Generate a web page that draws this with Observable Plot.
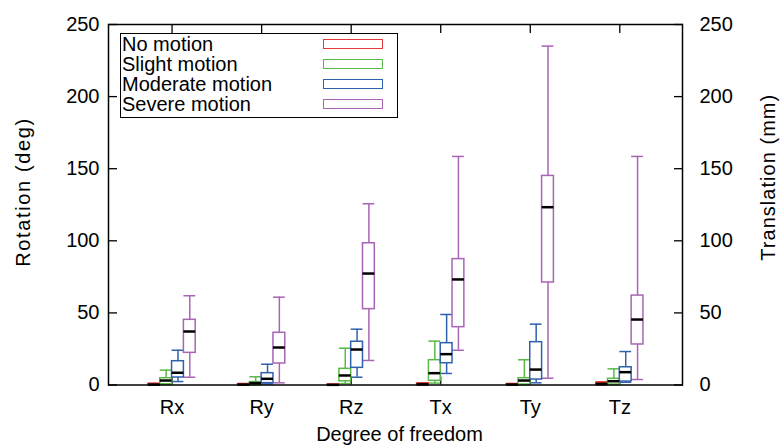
<!DOCTYPE html>
<html>
<head>
<meta charset="utf-8">
<script src="https://cdn.jsdelivr.net/npm/d3@7"></script>
<script src="https://cdn.jsdelivr.net/npm/@observablehq/plot@0.6"></script>
<style>
  html, body { margin: 0; padding: 0; background: #fff; }
  #wrap { position: relative; width: 780px; height: 447px; font-family: "Liberation Sans", Arial, sans-serif; }
  #legend { position: absolute; left: 120px; top: 33px; width: 276px; height: 83px; border: 1px solid #000; background: #fff; }
  .row { position: absolute; left: 1px; height: 20px; line-height: 20px; font-size: 20px; color: #000; white-space: nowrap; }
  .sw { position: absolute; left: 202px; width: 58px; height: 8px; border-width: 1.5px; border-style: solid; box-sizing: content-box; }
</style>
</head>
<body>
<div id="wrap"></div>
<script>
const categories = ["Rx", "Ry", "Rz", "Tx", "Ty", "Tz"];
const seriesNames = ["No motion", "Slight motion", "Moderate motion", "Severe motion"];
const seriesColors = ["#e8393a", "#5cb848", "#2f62ad", "#a865b5"];
const yTicks = [0, 50, 100, 150, 200, 250];

// five-number summaries [min, q1, median, q3, max] per category
const noMotion = [
  [0, 0.1, 0.3, 0.7, 1.2], [0, 0.1, 0.3, 0.6, 1.0], [0, 0, 0.1, 0.3, 0.5],
  [0, 0.2, 0.5, 1.0, 1.5], [0, 0.1, 0.3, 0.6, 1.0], [0, 0.3, 0.8, 1.5, 2.2]
];
const slightMotion = [
  [0.3, 0.5, 3.1, 4.7, 10.3], [0.1, 0.1, 1.3, 2.0, 5.7], [1.0, 2.6, 6.6, 11.2, 25.5],
  [1.3, 2.9, 8.2, 17.2, 30.4], [0.2, 0.3, 3.1, 4.7, 17.5], [0.2, 0.3, 2.6, 4.3, 11.2]
];
const moderateMotion = [
  [2.4, 5.2, 8.5, 16.5, 24.1], [0.8, 1.3, 4.3, 8.2, 14.4], [5.4, 11.9, 24.6, 30.0, 38.7],
  [8.0, 15.1, 21.4, 29.0, 48.9], [1.5, 3.8, 10.7, 29.7, 42.2], [1.9, 2.4, 8.9, 12.3, 23.2]
];
const severeMotion = [
  [5.4, 22.3, 37.1, 45.2, 61.9], [1.5, 14.9, 26.0, 36.2, 60.9], [17.0, 52.6, 77.3, 98.3, 125.7],
  [24.1, 40.1, 73.2, 87.3, 158.5], [4.7, 71.1, 123.3, 145.0, 235.0], [3.8, 28.1, 45.4, 62.0, 158.5]
];
const allSeries = [noMotion, slightMotion, moderateMotion, severeMotion];

const boxW = 0.132;
const rows = [];
allSeries.forEach((vals, si) => {
  vals.forEach((v, ci) => {
    const x = ci + 1 + (si - 1.5) * boxW;
    rows.push({series: seriesNames[si], x, x1: x - boxW / 2, x2: x + boxW / 2,
      min: v[0], q1: v[1], med: v[2], q3: v[3], max: v[4]});
  });
});
const catIdx = categories.map((c, i) => i + 1);

const font = "Liberation Sans, Arial, sans-serif";
const plot = Plot.plot({
  width: 780,
  height: 447,
  marginLeft: 108,
  marginRight: 98,
  marginTop: 24,
  marginBottom: 62.5,
  style: {fontFamily: font, fontSize: "20px", background: "#fff", color: "#000"},
  x: {domain: [0.29, 6.70], axis: null},
  y: {domain: [0, 250], axis: null},
  color: {domain: seriesNames, range: seriesColors},
  marks: [
    Plot.axisY(yTicks, {anchor: "left", tickSize: -9, tickFormat: () => "", label: null, strokeWidth: 1.3}),
    Plot.axisY(yTicks, {anchor: "right", tickSize: -9, tickFormat: () => "", label: null, strokeWidth: 1.3}),
    Plot.axisX(catIdx, {anchor: "top", tickSize: -8, tickFormat: () => "", label: null, strokeWidth: 1.3}),
    Plot.axisX(catIdx, {anchor: "bottom", tickSize: -8, tickFormat: () => "", label: null, strokeWidth: 1.3}),
    Plot.axisY(yTicks, {anchor: "left", tickSize: 0, tickPadding: 9, label: null, fontSize: 20}),
    Plot.axisY(yTicks, {anchor: "right", tickSize: 0, tickPadding: 17, label: null, fontSize: 20}),
    Plot.axisX(catIdx, {anchor: "bottom", tickSize: 0, tickPadding: 15, label: null, fontSize: 20,
      tickFormat: i => categories[i - 1]}),
    Plot.ruleX(rows, {x: "x", y1: "q3", y2: "max", stroke: "series", strokeWidth: 1.5}),
    Plot.ruleX(rows, {x: "x", y1: "min", y2: "q1", stroke: "series", strokeWidth: 1.5}),
    Plot.ruleY(rows, {y: "max", x1: "x1", x2: "x2", stroke: "series", strokeWidth: 1.5}),
    Plot.ruleY(rows, {y: "min", x1: "x1", x2: "x2", stroke: "series", strokeWidth: 1.5}),
    Plot.rect(rows, {x1: "x1", x2: "x2", y1: "q1", y2: "q3", fill: "white", stroke: "series", strokeWidth: 1.5}),
    Plot.ruleY(rows, {y: "med", x1: "x1", x2: "x2", stroke: "black", strokeWidth: 2.5}),
    Plot.frame({stroke: "black", strokeWidth: 1.5}),
    Plot.text(["Rotation (deg)"], {frameAnchor: "left", dx: -85, dy: -12, rotate: -90, fontSize: 20,
      textAnchor: "middle", lineAnchor: "middle", fill: "black", className: "ytitle-l"}),
    Plot.text(["Translation (mm)"], {frameAnchor: "right", dx: 86, dy: -27, rotate: -90, fontSize: 20,
      textAnchor: "middle", lineAnchor: "middle", fill: "black", className: "ytitle-r"}),
    Plot.text(["Degree of freedom"], {frameAnchor: "bottom", dx: 4, dy: 50, fontSize: 20,
      textAnchor: "middle", lineAnchor: "middle", fill: "black"})
  ]
});
// stretch the rotated axis titles to the reference's lengths
d3.select(plot).selectAll(".ytitle-l text").attr("textLength", 148).attr("lengthAdjust", "spacing");
d3.select(plot).selectAll(".ytitle-r text").attr("textLength", 166).attr("lengthAdjust", "spacing");

const wrap = document.getElementById("wrap");
wrap.appendChild(plot);

const legend = document.createElement("div");
legend.id = "legend";
seriesNames.forEach((name, i) => {
  const r = document.createElement("div");
  r.className = "row";
  r.style.top = (i * 20) + "px";
  r.textContent = name;
  legend.appendChild(r);
  const s = document.createElement("div");
  s.className = "sw";
  s.style.top = (i * 20 + 5) + "px";
  s.style.borderColor = seriesColors[i];
  legend.appendChild(s);
});
wrap.appendChild(legend);
</script>
</body>
</html>
